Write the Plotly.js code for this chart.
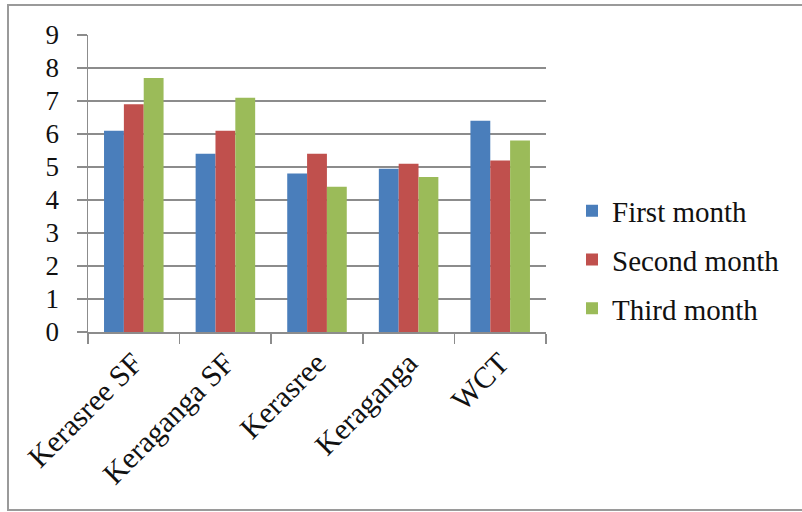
<!DOCTYPE html>
<html>
<head>
<meta charset="utf-8">
<script src="https://cdn.plot.ly/plotly-3.0.1.min.js"></script>
<style>html,body{margin:0;padding:0;background:#fff;}#chart{width:802px;height:512px;}</style>
</head>
<body>
<div id="chart"></div>
<script>
const categories = ["Kerasree SF", "Keraganga SF", "Kerasree", "Keraganga", "WCT"];
const seriesNames = ["First month", "Second month", "Third month"];
const firstMonth = [6.1, 5.4, 4.8, 4.95, 6.4];
const secondMonth = [6.9, 6.1, 5.4, 5.1, 5.2];
const thirdMonth = [7.7, 7.1, 4.4, 4.7, 5.8];
const yTicks = [0, 1, 2, 3, 4, 5, 6, 7, 8, 9];
const colors = ["#4a7ebb", "#c0504d", "#9bbb59"];

const values = [firstMonth, secondMonth, thirdMonth];
const traces = values.map((v, i) => ({
  type: "bar",
  name: seriesNames[i],
  x: categories,
  y: v,
  legendgroup: "g" + i,
  marker: { color: colors[i], line: { width: 0 } },
  hoverinfo: "x+y+name"
}));

const serif = "'Liberation Serif', 'Times New Roman', serif";
const L = 88, R = 546, T = 35, B = 332;
const pw = R - L, ph = B - T;
const px = v => (v - L) / pw;
const py = v => (B - v) / ph;

const layout = {
  width: 802,
  height: 512,
  margin: { l: L, r: 802 - R, t: T, b: 512 - B, pad: 0 },
  paper_bgcolor: "#ffffff",
  plot_bgcolor: "#ffffff",
  font: { family: serif, color: "#111111", size: 26 },
  barmode: "group",
  bargap: 0.35,
  bargroupgap: 0,
  showlegend: true,
  legend: {
    x: px(572), xanchor: "left",
    y: py(260), yanchor: "middle",
    font: { size: 29, family: serif, color: "#111111" },
    traceorder: "grouped",
    tracegroupgap: 8,
    itemwidth: 30,
    bgcolor: "rgba(0,0,0,0)"
  },
  xaxis: {
    type: "category",
    tickangle: -45,
    ticks: "outside",
    ticklen: 10,
    tickwidth: 1.5,
    tickcolor: "#8c8c8c",
    tickson: "boundaries",
    showline: true,
    linecolor: "#8c8c8c",
    linewidth: 1.5,
    showgrid: false,
    tickfont: { size: 30, family: serif, color: "#111111" },
    fixedrange: true
  },
  yaxis: {
    range: [0, 9],
    tickvals: yTicks,
    ticktext: yTicks.map(String),
    ticks: "outside",
    ticklen: 10,
    tickwidth: 1.5,
    tickcolor: "#8c8c8c",
    ticklabelstandoff: 12,
    showline: true,
    linecolor: "#8c8c8c",
    linewidth: 1.5,
    showgrid: true,
    gridcolor: "#8c8c8c",
    gridwidth: 1.5,
    zeroline: false,
    tickfont: { size: 27, family: serif, color: "#111111" },
    fixedrange: true
  },
  shapes: [{
    type: "rect", xref: "paper", yref: "paper",
    x0: px(8), x1: px(815), y0: py(510), y1: py(5),
    line: { color: "#9a9a9a", width: 2 },
    fillcolor: "rgba(0,0,0,0)",
    layer: "below"
  }]
};

Plotly.newPlot("chart", traces, layout, { displayModeBar: false, staticPlot: true });
</script>
</body>
</html>
